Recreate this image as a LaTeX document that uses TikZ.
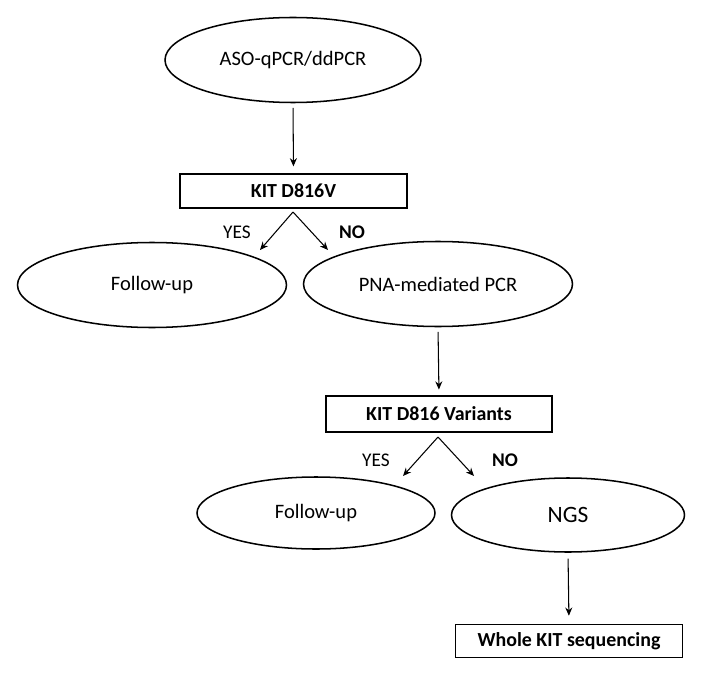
\documentclass[tikz,border=0pt]{standalone}
\usepackage{fontspec}
\setmainfont{Carlito}
\usetikzlibrary{shapes.geometric,arrows.meta}

\begin{document}
\begin{tikzpicture}[
  x=0.03cm, y=-0.03cm,
  oval/.style={draw, ellipse, line width=1.3pt, inner sep=0pt, font=\fontsize{17.5}{20}\selectfont},
  testbox/.style={draw, line width=1pt, inner sep=0pt, font=\bfseries\fontsize{17}{20}\selectfont},
  arr/.style={-{Stealth[length=7pt,width=6pt]}, line width=0.9pt},
  answer/.style={font=\fontsize{16.5}{19}\selectfont}
]
\useasboundingbox (0,0) rectangle (707,679);
% first test
\node[oval, minimum width=256*0.03cm, minimum height=85*0.03cm] (aso) at (293,60) {ASO-qPCR/ddPCR};
\node[testbox, minimum width=227*0.03cm, minimum height=34*0.03cm] (kit) at (293.5,191) {KIT D816V};
\draw[arr, shorten <=4pt, shorten >=6pt] (aso.south) -- (kit.north);
\coordinate (kitsplit) at (293,212);
\coordinate (kityes) at (260,250);
\coordinate (kitno) at (328,250);
\draw[arr] (kitsplit) -- (kityes);
\draw[arr] (kitsplit) -- (kitno);
\node[answer] at (237,232) {YES};
\node[answer, font=\bfseries\fontsize{16.5}{19}\selectfont] at (352,232) {NO};
\node[oval, minimum width=269*0.03cm, minimum height=85*0.03cm] (follow) at (152,285) {Follow-up};
\node[oval, minimum width=269*0.03cm, minimum height=85*0.03cm] (pna) at (438,284) {PNA-mediated PCR};
% second test
\node[testbox, minimum width=226*0.03cm, minimum height=36*0.03cm] (var) at (439,414) {KIT D816 Variants};
\draw[arr, shorten <=4pt, shorten >=5pt] (pna.south) -- (var.north);
\coordinate (varsplit) at (438,437);
\coordinate (varyes) at (403,476);
\coordinate (varno) at (474,476);
\draw[arr] (varsplit) -- (varyes);
\draw[arr] (varsplit) -- (varno);
\node[answer] at (376,460) {YES};
\node[answer, font=\bfseries\fontsize{16.5}{19}\selectfont] at (505,460) {NO};
\node[oval, minimum width=238*0.03cm, minimum height=72*0.03cm] (follow2) at (316,513) {Follow-up};
\node[oval, minimum width=233*0.03cm, minimum height=74*0.03cm, font=\fontsize{20}{23}\selectfont] (ngs) at (568,515) {NGS};
% last step
\node[testbox, minimum width=227*0.03cm, minimum height=33*0.03cm] (whole) at (569,641) {Whole KIT sequencing};
\draw[arr, shorten <=5pt, shorten >=7pt] (ngs.south) -- (whole.north);
\end{tikzpicture}
\end{document}
